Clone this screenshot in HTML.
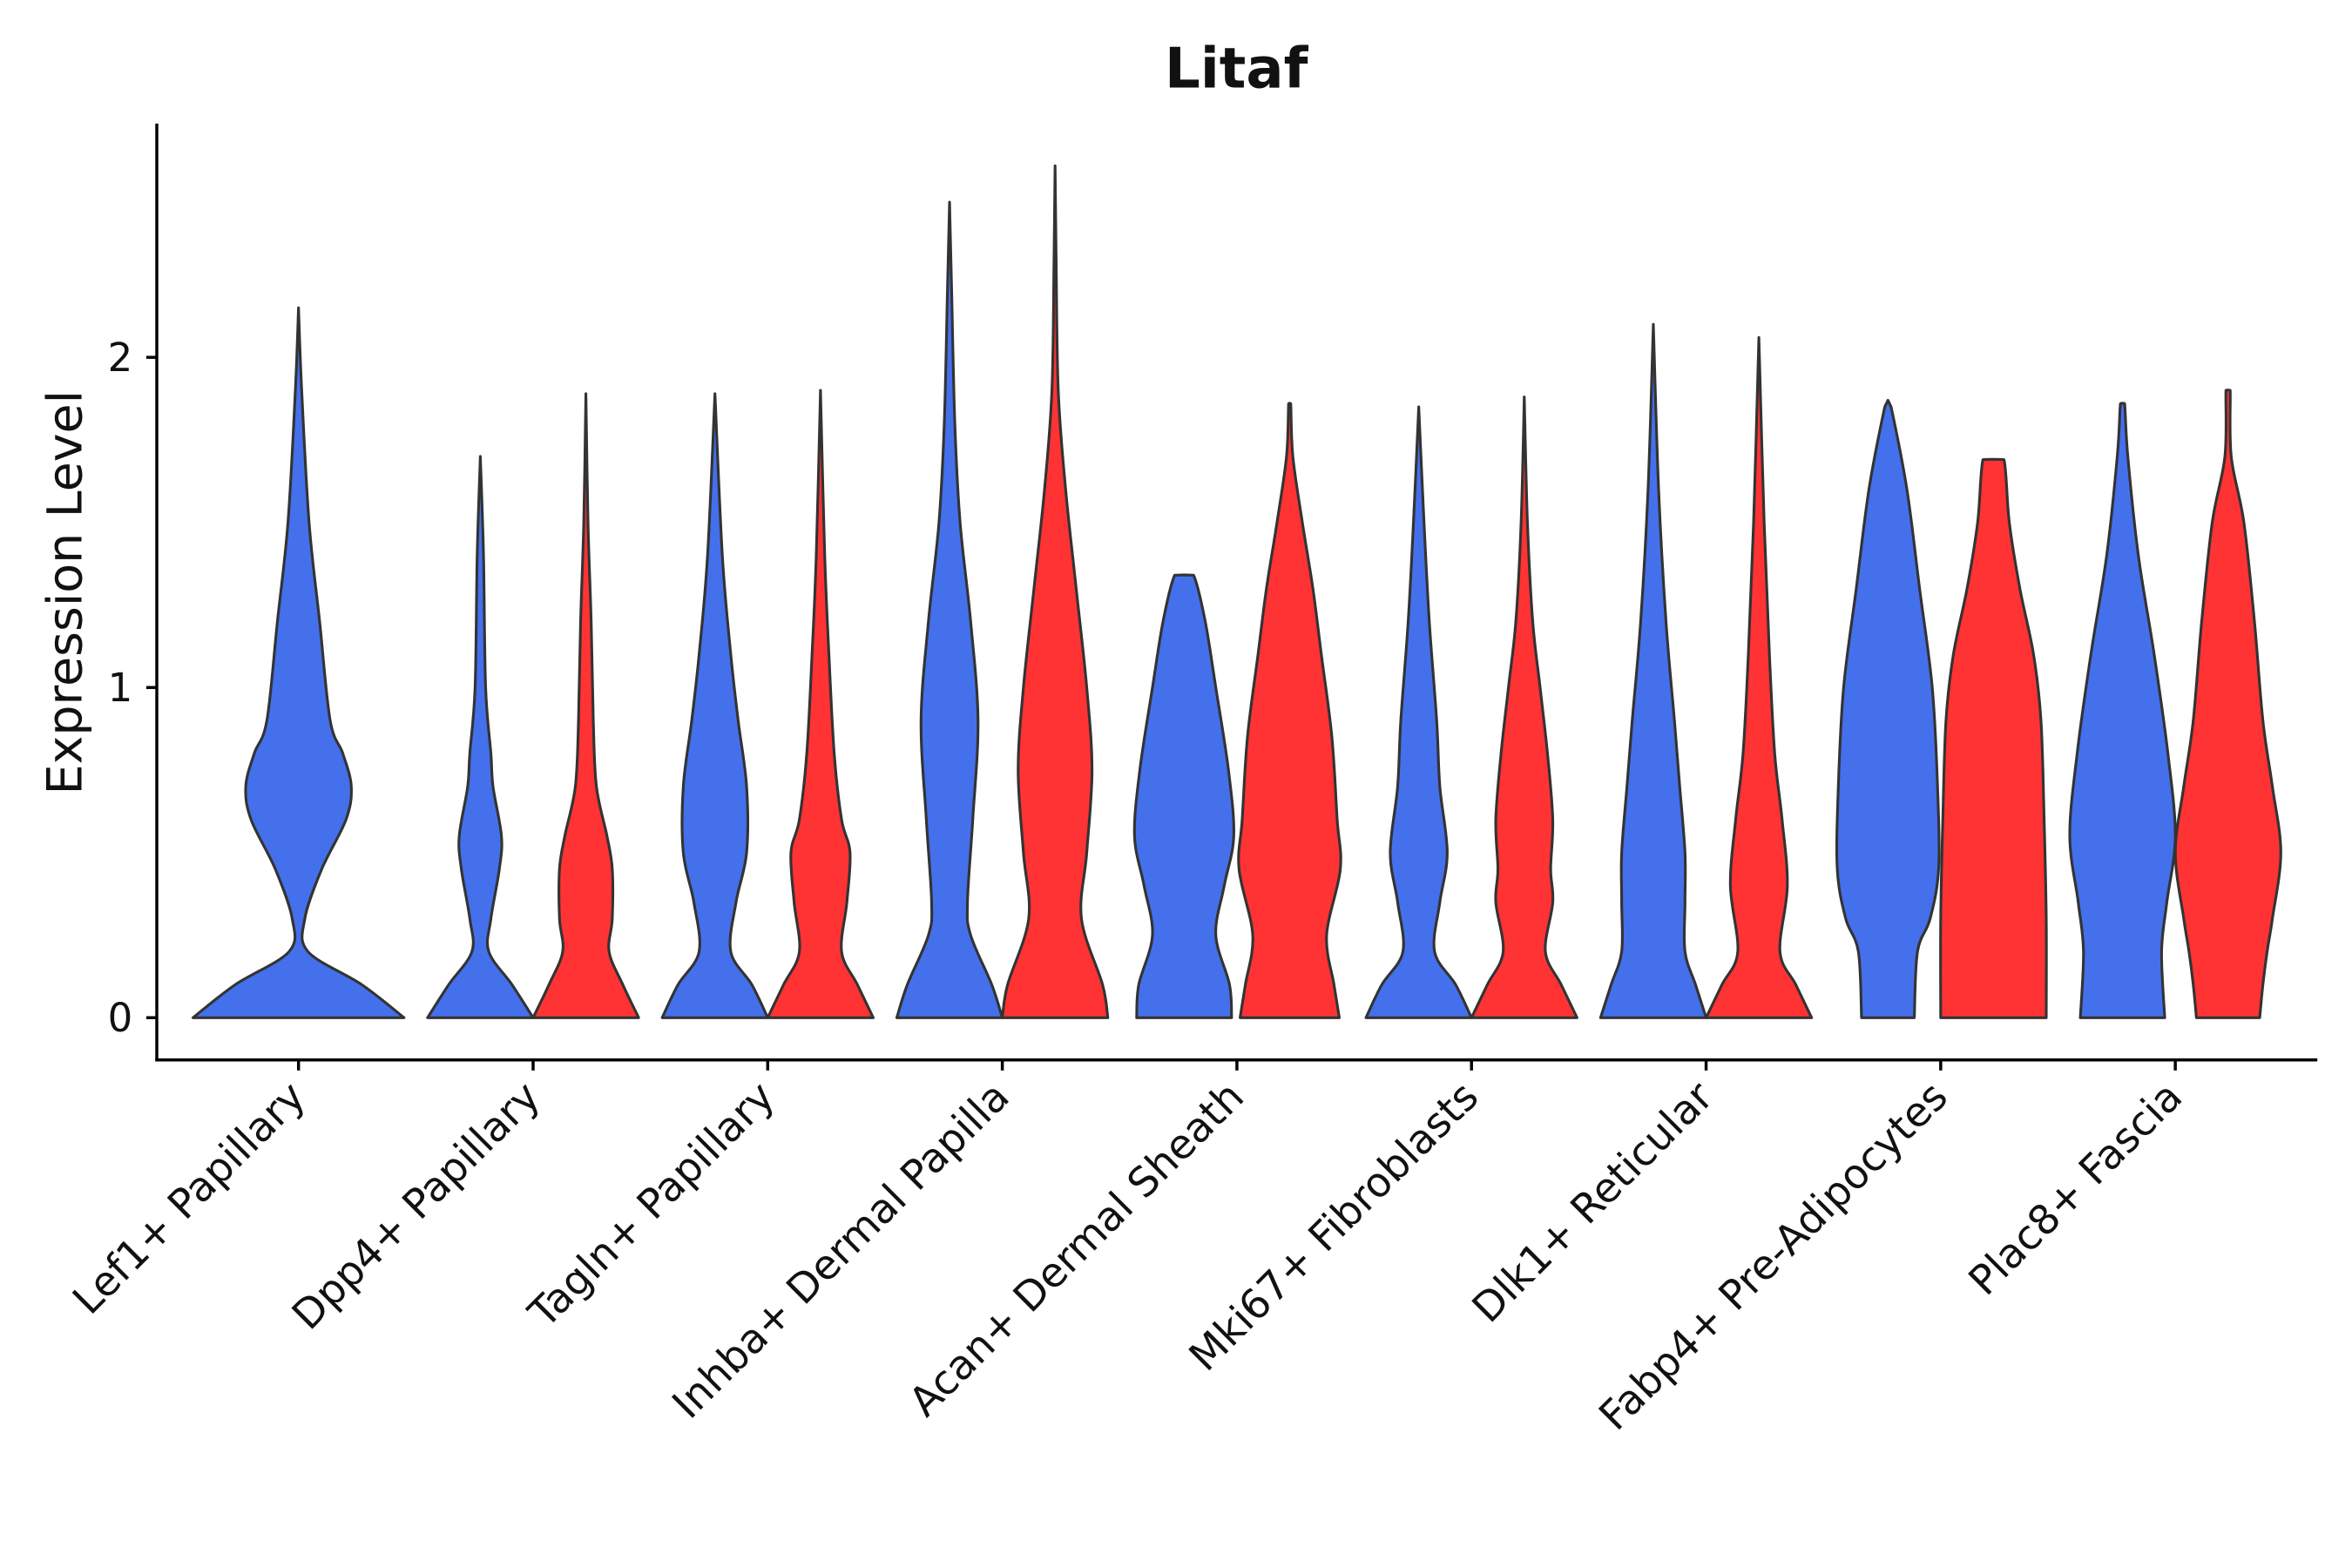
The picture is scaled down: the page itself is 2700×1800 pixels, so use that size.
<!DOCTYPE html>
<html><head><meta charset="utf-8"><style>
html,body{margin:0;padding:0;background:#fff}
svg{display:block}
text{font-family:"DejaVu Sans","Liberation Sans",sans-serif;fill:#111}
</style></head><body>
<svg id="chart" width="2700" height="1800" viewBox="0 0 1560 1040" xmlns="http://www.w3.org/2000/svg">
<text x="820" y="58" text-anchor="middle" font-size="37" font-weight="bold">Litaf</text>
<text x="0" y="0" transform="translate(54,393) rotate(-90)" text-anchor="middle" font-size="32">Expression Level</text>
<g id="violins"></g>
<g id="axes"></g>
</svg>
<script>
const categories = ["Lef1+ Papillary","Dpp4+ Papillary","Tagln+ Papillary","Inhba+ Dermal Papilla","Acan+ Dermal Sheath","Mki67+ Fibroblasts","Dlk1+ Reticular","Fabp4+ Pre-Adipocytes","Plac8+ Fascia"];
const yTicks = [0,1,2];
// each violin: category index, group (0 blue,1 red), offset (-1 left,0 centered,1 right), profile [expression, density]
const violinCategory = [0,1,1,2,2,3,3,4,4,5,5,6,6,7,7,8,8];
const violinGroup =    [0,0,1,0,1,0,1,0,1,0,1,0,1,0,1,0,1];
const violinOffset =   [0,-1,1,-1,1,-1,1,-1,1,-1,1,-1,1,-1,1,-1,1];
const violinProfiles = [
 [[0,1.0],[0.1,0.6],[0.2,0.09],[0.3,0.06],[0.45,0.22],[0.6,0.45],[0.7,0.5],[0.8,0.42],[0.9,0.3],[1.2,0.2],[1.5,0.1],[1.9,0.03],[2.15,0]],
 [[0,0.5],[0.1,0.3],[0.2,0.08],[0.3,0.1],[0.45,0.18],[0.55,0.2],[0.7,0.12],[0.8,0.1],[1.0,0.05],[1.4,0.03],[1.7,0]],
 [[0,0.5],[0.1,0.35],[0.2,0.22],[0.3,0.25],[0.45,0.25],[0.55,0.2],[0.7,0.1],[0.9,0.07],[1.2,0.05],[1.5,0.02],[1.89,0]],
 [[0,0.5],[0.1,0.35],[0.2,0.15],[0.35,0.2],[0.5,0.3],[0.7,0.3],[0.9,0.22],[1.1,0.15],[1.4,0.07],[1.89,0]],
 [[0,0.5],[0.1,0.35],[0.2,0.2],[0.35,0.25],[0.5,0.28],[0.6,0.2],[0.8,0.13],[1.1,0.08],[1.4,0.04],[1.9,0]],
 [[0,0.5],[0.1,0.4],[0.25,0.2],[0.35,0.17],[0.6,0.22],[0.9,0.27],[1.2,0.2],[1.5,0.1],[1.8,0.05],[2.2,0.02],[2.47,0]],
 [[0,0.5],[0.1,0.45],[0.3,0.25],[0.5,0.3],[0.75,0.35],[1.0,0.3],[1.3,0.2],[1.6,0.1],[1.9,0.03],[2.3,0.01],[2.58,0]],
 [[0,0.45],[0.1,0.43],[0.25,0.3],[0.4,0.38],[0.55,0.47],[0.75,0.42],[1.0,0.3],[1.2,0.2],[1.34,0.09],[1.341,0]],
 [[0,0.47],[0.1,0.42],[0.25,0.35],[0.45,0.48],[0.6,0.45],[0.85,0.4],[1.1,0.3],[1.3,0.22],[1.5,0.12],[1.7,0.03],[1.86,0.01],[1.861,0]],
 [[0,0.5],[0.1,0.35],[0.2,0.15],[0.35,0.2],[0.5,0.27],[0.7,0.2],[0.9,0.17],[1.2,0.1],[1.5,0.05],[1.85,0]],
 [[0,0.5],[0.1,0.35],[0.2,0.2],[0.35,0.27],[0.45,0.25],[0.6,0.27],[0.8,0.22],[1.0,0.15],[1.2,0.08],[1.5,0.03],[1.88,0]],
 [[0,0.5],[0.1,0.4],[0.2,0.3],[0.35,0.3],[0.5,0.3],[0.7,0.25],[0.9,0.2],[1.2,0.12],[1.6,0.05],[2.1,0]],
 [[0,0.5],[0.1,0.35],[0.2,0.2],[0.4,0.27],[0.6,0.22],[0.8,0.15],[1.1,0.1],[1.5,0.05],[2.06,0]],
 [[0,0.25],[0.2,0.28],[0.3,0.4],[0.45,0.48],[0.7,0.47],[1.0,0.42],[1.3,0.3],[1.6,0.18],[1.85,0.03],[1.87,0]],
 [[0,0.5],[0.3,0.5],[0.6,0.48],[0.9,0.45],[1.1,0.38],[1.3,0.25],[1.5,0.15],[1.69,0.1],[1.691,0]],
 [[0,0.4],[0.2,0.37],[0.35,0.42],[0.55,0.5],[0.8,0.43],[1.1,0.3],[1.4,0.15],[1.7,0.05],[1.86,0.02],[1.861,0]],
 [[0,0.3],[0.1,0.33],[0.2,0.37],[0.3,0.42],[0.5,0.5],[0.7,0.42],[0.9,0.33],[1.2,0.25],[1.5,0.15],[1.7,0.03],[1.9,0.02],[1.901,0]]
];
const colors = ["#4470EC","#FF3333"];
const NS="http://www.w3.org/2000/svg";
const X0=104,X1=1537,Y0=82,Yb=703;
function yScale(v){return 675-219*v;}
function xCat(i){return 198+i*155.6;}
function wScale(d){return d*70;}
const vg=document.getElementById('violins');
function clampY(v,a,b){const lo=Math.min(a,b),hi=Math.max(a,b);return Math.max(lo,Math.min(hi,v));}
function smooth(pts){
  let d="M"+pts[0][0]+","+pts[0][1];
  for(let i=0;i<pts.length-1;i++){
    const p0=pts[Math.max(0,i-1)],p1=pts[i],p2=pts[i+1],p3=pts[Math.min(pts.length-1,i+2)];
    const c1=[p1[0]+(p2[0]-p0[0])/6,clampY(p1[1]+(p2[1]-p0[1])/6,p1[1],p2[1])];
    const c2=[p2[0]-(p3[0]-p1[0])/6,clampY(p2[1]-(p3[1]-p1[1])/6,p1[1],p2[1])];
    d+=" C"+c1[0].toFixed(2)+","+c1[1].toFixed(2)+" "+c2[0].toFixed(2)+","+c2[1].toFixed(2)+" "+p2[0].toFixed(2)+","+p2[1].toFixed(2);
  }
  return d;
}
violinProfiles.forEach((prof,k)=>{
  const cx=xCat(violinCategory[k])+violinOffset[k]*35;
  const right=prof.map(p=>[cx+wScale(p[1]),yScale(p[0])]);
  const left=prof.slice().reverse().map(p=>[cx-wScale(p[1]),yScale(p[0])]);
  let d=smooth(right);
  d+=" L"+left[0][0]+","+left[0][1];
  d+=smooth(left).replace(/^M[^ C]+/,"");
  d+=" Z";
  const path=document.createElementNS(NS,'path');
  path.setAttribute('d',d);
  path.setAttribute('fill',colors[violinGroup[k]]);
  path.setAttribute('stroke','#333');
  path.setAttribute('stroke-width','1.8');
  path.setAttribute('stroke-linejoin','round');
  
  
  vg.appendChild(path);
});
const ag=document.getElementById('axes');
function line(x1,y1,x2,y2,name){
  const l=document.createElementNS(NS,'line');
  l.setAttribute('x1',x1);l.setAttribute('y1',y1);l.setAttribute('x2',x2);l.setAttribute('y2',y2);
  l.setAttribute('stroke','#000');l.setAttribute('stroke-width','2');
  
  
  ag.appendChild(l);
}
line(X0,Y0,X0,Yb+1,'y-axis-line');
line(X0-1,Yb,X1,Yb,'x-axis-line');
yTicks.forEach(v=>{
  line(X0-7,yScale(v),X0,yScale(v),'y-tick');
  const t=document.createElementNS(NS,'text');
  t.setAttribute('x',X0-16);t.setAttribute('y',yScale(v)+9);
  t.setAttribute('text-anchor','end');t.setAttribute('font-size','26');
  t.textContent=v;
  
  
  ag.appendChild(t);
});
categories.forEach((c,i)=>{
  const x=xCat(i);
  line(x,Yb,x,Yb+7,'x-tick');
  const t=document.createElementNS(NS,'text');
  t.setAttribute('transform','translate('+(x+6)+','+(Yb+26)+') rotate(-45)');
  t.setAttribute('text-anchor','end');t.setAttribute('font-size','27');
  t.textContent=c;
  
  
  ag.appendChild(t);
});
</script>
</body></html>
